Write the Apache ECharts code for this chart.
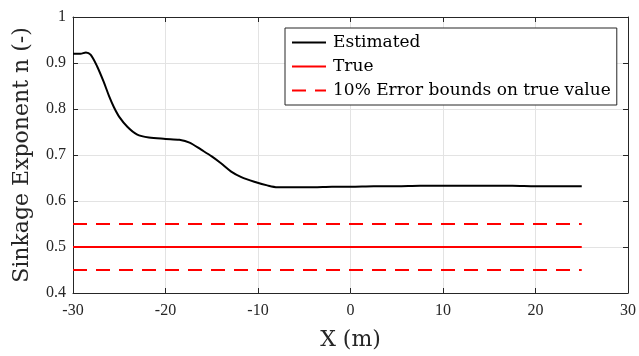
<!DOCTYPE html>
<html>
<head>
<meta charset="utf-8">
<script src="https://cdn.jsdelivr.net/npm/echarts@6/dist/echarts.min.js"></script>
<style>
  html, body { margin: 0; padding: 0; background: #fff; }
  #chart { width: 639px; height: 356px; }
</style>
</head>
<body>
<div id="chart"></div>
<script>
// estimated sinkage exponent along the path
const xPos = [-30, -29.2, -28.6, -28.1, -27.4, -26.7, -26.1, -25.6, -25.0, -24.1, -23.1, -21.8, -20, -18.5, -17.4, -16.1, -15.0, -14.0, -12.9, -11.8, -10.4, -9.0, -7.9, -6, -4, -2, 0, 2.5, 5, 7.5, 10, 12.5, 15, 17.5, 20, 22.5, 25];
const estimated = [0.920, 0.920, 0.923, 0.918, 0.893, 0.860, 0.828, 0.805, 0.783, 0.761, 0.745, 0.738, 0.735, 0.733, 0.727, 0.711, 0.697, 0.682, 0.664, 0.652, 0.642, 0.634, 0.630, 0.630, 0.630, 0.631, 0.631, 0.632, 0.632, 0.633, 0.633, 0.633, 0.633, 0.633, 0.632, 0.632, 0.632];
const xRange = [-30, 25];
const trueValue = 0.5;
const upperBound = 0.55;
const lowerBound = 0.45;
const seriesNames = ["Estimated", "True", "10% Error bounds on true value"];

const font = "Liberation Serif";
const wideFont = "DejaVu Serif";
const axisColor = "#262626";

const chart = echarts.init(document.getElementById("chart"));

const flat = v => xRange.map(x => [x, v]);

const baseX = {
  type: "value",
  min: -30,
  max: 30,
  interval: 10,
  axisLine: { show: true, onZero: false, lineStyle: { color: axisColor, width: 1 } },
  axisTick: { show: true, inside: true, length: 5, lineStyle: { color: axisColor } },
  splitLine: { show: false }
};
const baseY = {
  type: "value",
  min: 0.4,
  max: 1,
  interval: 0.1,
  axisLine: { show: true, onZero: false, lineStyle: { color: axisColor, width: 1 } },
  axisTick: { show: true, inside: true, length: 5, lineStyle: { color: axisColor } },
  splitLine: { show: false }
};

chart.setOption({
  animation: false,
  textStyle: { fontFamily: font },
  grid: { left: 73, right: 7, top: 17, bottom: 59 },
  legend: {
    orient: "vertical",
    left: 285,
    top: 28,
    itemWidth: 34,
    itemHeight: 10,
    itemGap: 7,
    padding: [6, 6, 6, 6],
    borderColor: axisColor,
    borderWidth: 1,
    backgroundColor: "#fff",
    itemStyle: { opacity: 0 },
    textStyle: { fontFamily: wideFont, fontSize: 17, color: "#000", padding: [0, 0, 0, 2] },
    data: seriesNames
  },
  xAxis: [
    Object.assign({}, baseX, {
      position: "bottom",
      name: "X (m)",
      nameLocation: "middle",
      nameGap: 36,
      nameTextStyle: { fontFamily: wideFont, fontSize: 22, color: "#262626" },
      axisLabel: {
        fontFamily: font, fontSize: 16, color: "#262626", margin: 10,
        formatter: v => String(v)
      },
      splitLine: { show: true, lineStyle: { color: "#e3e3e3", width: 1 } }
    }),
    Object.assign({}, baseX, { position: "top", axisLabel: { show: false } })
  ],
  yAxis: [
    Object.assign({}, baseY, {
      position: "left",
      name: "Sinkage Exponent n (-)",
      nameLocation: "middle",
      nameGap: 40,
      nameTextStyle: { fontFamily: wideFont, fontSize: 22, color: "#262626" },
      axisLabel: {
        fontFamily: font, fontSize: 16, color: "#262626", margin: 7,
        formatter: v => (v === 1 ? "1" : v.toFixed(1))
      },
      splitLine: { show: true, lineStyle: { color: "#e3e3e3", width: 1 } }
    }),
    Object.assign({}, baseY, { position: "right", axisLabel: { show: false } })
  ],
  series: [
    {
      name: seriesNames[0],
      type: "line",
      data: xPos.map((x, i) => [x, estimated[i]]),
      symbol: "none",
      smooth: 0.3,
      lineStyle: { color: "#000", width: 2 },
      itemStyle: { color: "#000" },
      z: 5
    },
    {
      name: seriesNames[1],
      type: "line",
      data: flat(trueValue),
      symbol: "none",
      lineStyle: { color: "#ff0000", width: 2 },
      itemStyle: { color: "#ff0000" }
    },
    {
      name: seriesNames[2],
      type: "line",
      data: flat(upperBound),
      symbol: "none",
      lineStyle: { color: "#ff0000", width: 2, type: [14, 9] },
      itemStyle: { color: "#ff0000" }
    },
    {
      name: seriesNames[2],
      type: "line",
      data: flat(lowerBound),
      symbol: "none",
      lineStyle: { color: "#ff0000", width: 2, type: [14, 9] },
      itemStyle: { color: "#ff0000" }
    }
  ]
});
</script>
</body>
</html>
